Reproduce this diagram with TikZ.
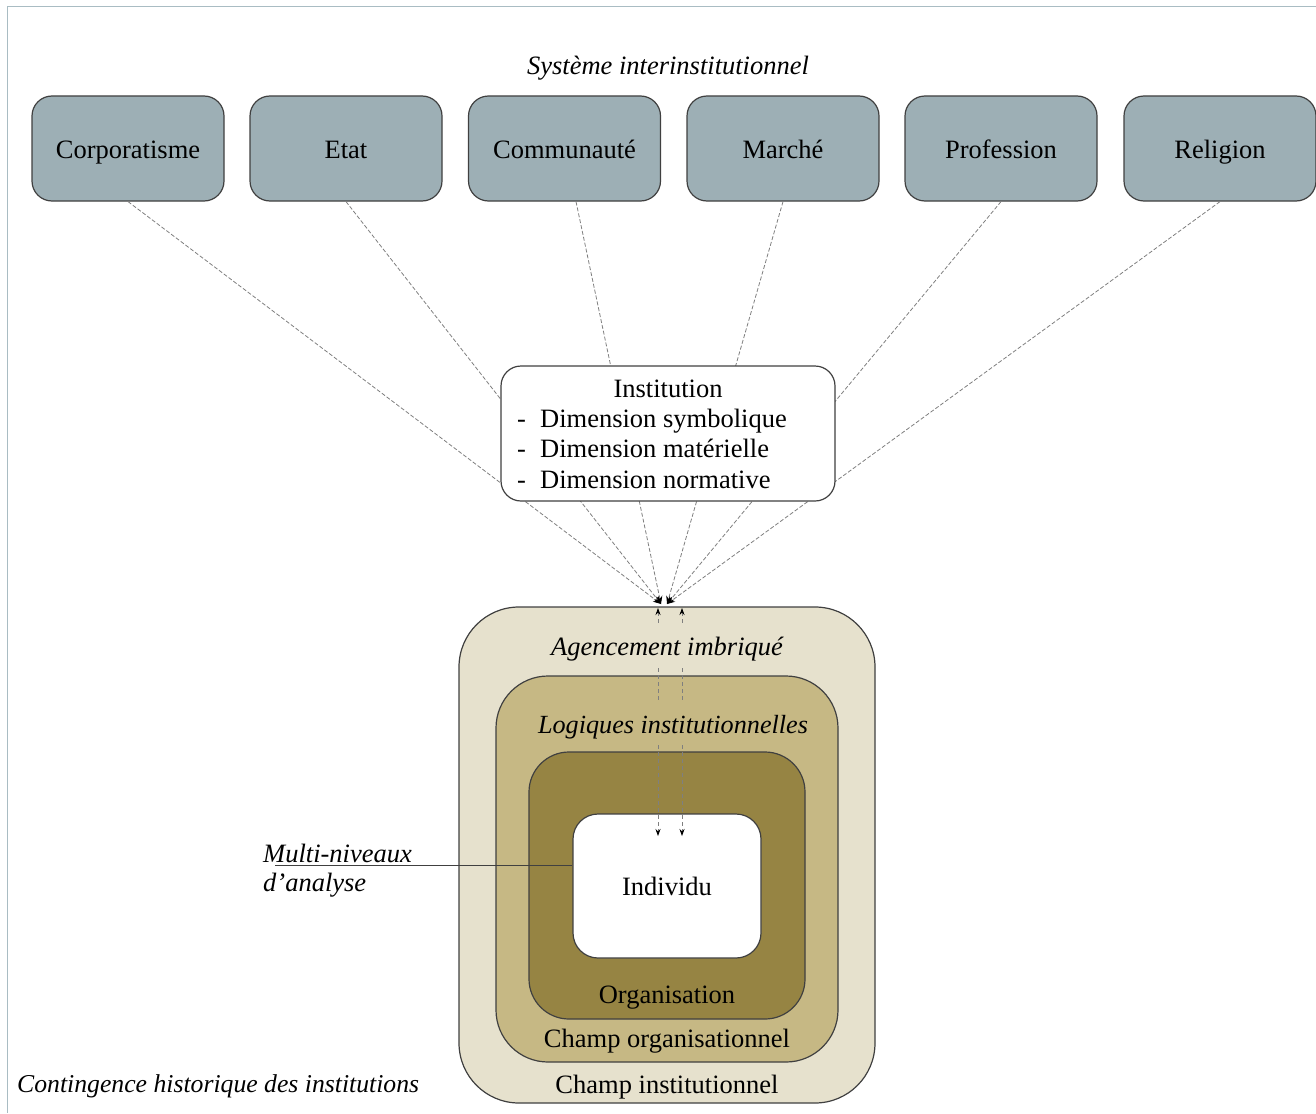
\documentclass[tikz,border=0pt]{standalone}
\usepackage{fontspec}
\setmainfont{Liberation Serif}
\usetikzlibrary{arrows.meta}
\definecolor{boxgray}{HTML}{9DAFB5}
\definecolor{lvlA}{HTML}{E6E1CD}
\definecolor{lvlB}{HTML}{C6B884}
\definecolor{lvlC}{HTML}{968443}
\definecolor{framec}{HTML}{A9BCC3}
\definecolor{edgec}{HTML}{404040}
\definecolor{dashc}{HTML}{7F7F7F}
\begin{document}
\begin{tikzpicture}[x=1pt,y=-1pt,
  txt/.style={font=\fontsize{26.5}{31}\selectfont, inner sep=0pt},
  itxt/.style={font=\fontsize{26.5}{31}\selectfont\itshape, inner sep=0pt},
  sysbox/.style={draw=edgec, line width=1.2pt, fill=boxgray, rounded corners=20pt,
    minimum width=192pt, minimum height=105pt, font=\fontsize{26.5}{31}\selectfont,
    text height=24pt, text depth=5pt, inner sep=0pt},
  lvl/.style={draw=edgec, line width=1.2pt, inner sep=0pt},
  conv/.style={draw=dashc, line width=0.8pt, dash pattern=on 4pt off 2pt,
    -{Stealth[length=8pt,width=6pt,color=black]}},
  vdash/.style={draw=dashc, line width=0.8pt, dash pattern=on 4pt off 3pt,
    {Stealth[length=7pt,width=5pt,color=black]}-{Stealth[length=7pt,width=5pt,color=black]}},
  frameline/.style={draw=framec, line width=1.5pt},
  mline/.style={draw=edgec, line width=1pt}
]
\useasboundingbox (0,0) rectangle (1316,1113);
\draw[frameline] (1316,6.5) -| (7.5,1113);

% title and institutional orders
\node[itxt, anchor=base] (title) at (668,75) {Système interinstitutionnel};
\node[sysbox] (corp) at (128,148.5) {Corporatisme};
\node[sysbox] (etat) at (346,148.5) {Etat};
\node[sysbox] (comm) at (564.5,148.5) {Communauté};
\node[sysbox] (marc) at (783,148.5) {Marché};
\node[sysbox] (prof) at (1001,148.5) {Profession};
\node[sysbox] (reli) at (1220,148.5) {Religion};

% converging connectors
\coordinate (convL) at (661,604);
\coordinate (convR) at (667,604);
\draw[conv] (corp.south) -- (convL);
\draw[conv] (etat.south) -- (convL);
\draw[conv] ([xshift=11.5pt]comm.south) -- (convL);
\draw[conv] (marc.south) -- (convR);
\draw[conv] (prof.south) -- (convR);
\draw[conv] (reli.south) -- (convR);

% institution box
\node[draw=edgec, line width=1.2pt, fill=white, rounded corners=20pt,
  minimum width=334pt, minimum height=135pt, inner sep=0pt] (inst) at (668,433.5) {};
\node[txt, anchor=base] (instT) at (668,397) {Institution};
\node[txt, anchor=base west] (inst1) at (517,427) {\makebox[23pt][l]{-}Dimension symbolique};
\node[txt, anchor=base west] (inst2) at (517,457) {\makebox[23pt][l]{-}Dimension matérielle};
\node[txt, anchor=base west] (inst3) at (517,488) {\makebox[23pt][l]{-}Dimension normative};

% nested levels
\node[lvl, fill=lvlA, rounded corners=60pt, minimum width=416pt, minimum height=496pt] (champI) at (667,855) {};
\node[lvl, fill=lvlB, rounded corners=52pt, minimum width=342pt, minimum height=386pt] (champO) at (667,869) {};
\node[lvl, fill=lvlC, rounded corners=40pt, minimum width=276pt, minimum height=267pt] (orgbox) at (667,885.5) {};
\node[lvl, fill=white, rounded corners=25pt, minimum width=188pt, minimum height=144pt,
  font=\fontsize{26.5}{31}\selectfont] (indiv) at (667,886) {Individu};

% vertical arrows
\coordinate (vT1) at (658,608);
\coordinate (vB1) at (658,836);
\coordinate (vT2) at (682,608);
\coordinate (vB2) at (682,836);
\draw[vdash] (vT1) -- (vB1);
\draw[vdash] (vT2) -- (vB2);

% level labels
\node[itxt, anchor=base, fill=lvlA, text height=30pt, text depth=12pt] (agen) at (667,655) {Agencement imbriqué};
\node[itxt, anchor=base, fill=lvlB, text height=30pt, text depth=10pt, font=\fontsize{26.2}{31}\selectfont\itshape] (logi) at (673,733) {Logiques institutionnelles};
\node[txt, anchor=base] (orgT) at (667,1003) {Organisation};
\node[txt, anchor=base] (champOT) at (667,1047) {Champ organisationnel};
\node[txt, anchor=base] (champIT) at (667,1093) {Champ institutionnel};

% side labels
\node[itxt, anchor=base west] (multi) at (263,862) {Multi-niveaux};
\node[itxt, anchor=base west] (analyse) at (263,891) {d’analyse};
\coordinate (mstart) at (275,865);
\draw[mline] (mstart) -- (mstart -| indiv.west);
\node[itxt, anchor=base west, font=\fontsize{25.7}{31}\selectfont\itshape] (conti) at (17,1092) {Contingence historique des institutions};
\end{tikzpicture}
\end{document}
